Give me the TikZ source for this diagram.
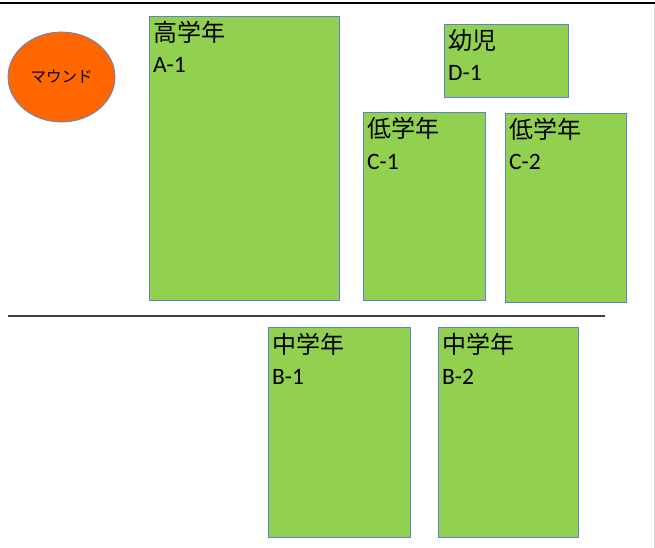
\documentclass[tikz,border=0pt]{standalone}
\usepackage{fontspec}
\setmainfont{Carlito}
\newfontfamily\jpfont{Noto Sans CJK JP}
\usetikzlibrary{shapes.geometric}
\definecolor{grassgreen}{HTML}{92D050}
\definecolor{edgeblue}{HTML}{5B85C8}
\definecolor{moundorange}{HTML}{FF6600}
\tikzstyle{area}=[fill=grassgreen, draw=edgeblue, line width=0.9pt, shape=rectangle, inner sep=0pt, anchor=north west]
\tikzstyle{grade}=[anchor=base west, inner sep=0pt, font=\jpfont\fontsize{24}{24}\selectfont]
\tikzstyle{code}=[anchor=base west, inner sep=0pt, font=\fontsize{23.5}{23.5}\selectfont]
\tikzstyle{mound}=[fill=moundorange, draw=edgeblue, line width=0.8pt, shape=ellipse, inner sep=0pt, minimum width=107pt, minimum height=90pt, font=\jpfont\fontsize{15.5}{15.5}\selectfont]

\begin{document}
\begin{tikzpicture}[x=1pt, y=-1pt]
	\useasboundingbox (0,0) rectangle (655,548);
	% frame
	\draw [line width=2pt, black] (0,3) -- (655,3);
	\draw [line width=0.8pt, black!15] (654,4) -- (654,548);
	\draw [line width=1.2pt, black!75] (8,316) -- (605,316);
	% mound
	\node [style=mound] (mound) at (61.5,77) {マウンド};
	% areas
	\node [style=area, minimum width=190pt, minimum height=284pt] (a1) at (149,16) {};
	\node [style=area, minimum width=124pt, minimum height=73pt] (d1) at (444,24) {};
	\node [style=area, minimum width=122pt, minimum height=188pt] (c1) at (363,112) {};
	\node [style=area, minimum width=121pt, minimum height=189pt] (c2) at (505,113) {};
	\node [style=area, minimum width=142pt, minimum height=210pt] (b1) at (268,327) {};
	\node [style=area, minimum width=140pt, minimum height=210pt] (b2) at (438,327) {};
	% labels
	\node [style=grade, xshift=4pt, yshift=-26pt] (a1grade) at (a1.north west) {高学年};
	\node [style=code, xshift=4pt, yshift=-57pt] (a1code) at (a1.north west) {A-1};
	\node [style=grade, xshift=4pt, yshift=-26pt] (d1grade) at (d1.north west) {幼児};
	\node [style=code, xshift=4pt, yshift=-57pt] (d1code) at (d1.north west) {D-1};
	\node [style=grade, xshift=4pt, yshift=-26pt] (c1grade) at (c1.north west) {低学年};
	\node [style=code, xshift=4pt, yshift=-57pt] (c1code) at (c1.north west) {C-1};
	\node [style=grade, xshift=4pt, yshift=-26pt] (c2grade) at (c2.north west) {低学年};
	\node [style=code, xshift=4pt, yshift=-57pt] (c2code) at (c2.north west) {C-2};
	\node [style=grade, xshift=4pt, yshift=-26pt] (b1grade) at (b1.north west) {中学年};
	\node [style=code, xshift=4pt, yshift=-57pt] (b1code) at (b1.north west) {B-1};
	\node [style=grade, xshift=4pt, yshift=-26pt] (b2grade) at (b2.north west) {中学年};
	\node [style=code, xshift=4pt, yshift=-57pt] (b2code) at (b2.north west) {B-2};
\end{tikzpicture}
\end{document}
